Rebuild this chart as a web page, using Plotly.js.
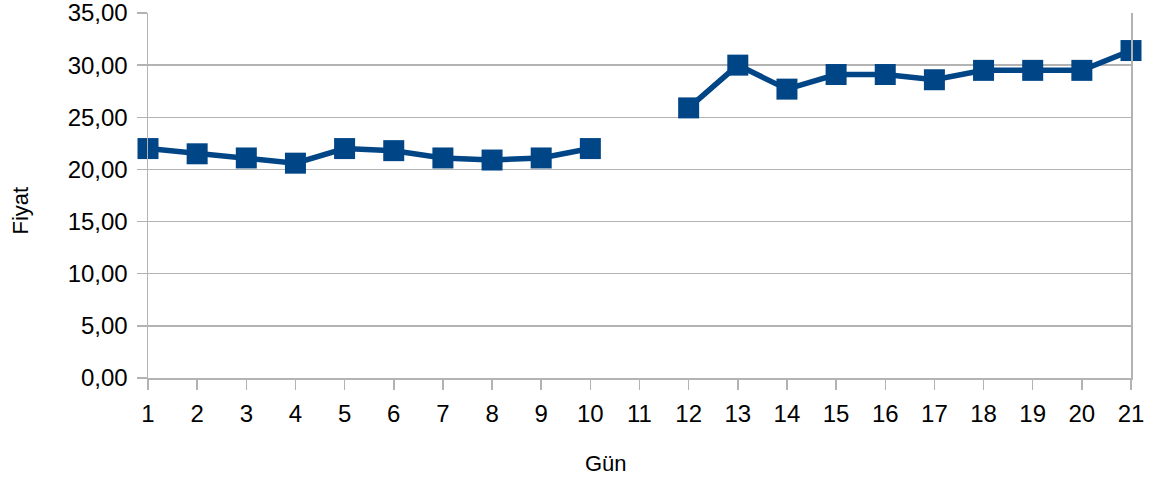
<!DOCTYPE html>
<html>
<head>
<meta charset="utf-8">
<script src="https://cdn.plot.ly/plotly-3.0.1.min.js"></script>
<style>
  html, body { margin: 0; padding: 0; background: #fff; }
  #chart { width: 1158px; height: 482px; }
</style>
</head>
<body>
<div id="chart"></div>
<script>
// Günlük fiyat serisi (11. gün verisi yok)
const gunler = [1, 2, 3, 4, 5, 6, 7, 8, 9, 10, 11, 12, 13, 14, 15, 16, 17, 18, 19, 20, 21];
const fiyatlar = [22.0, 21.5, 21.1, 20.6, 22.0, 21.8, 21.1, 20.9, 21.1, 22.0, null,
                  25.9, 30.0, 27.7, 29.1, 29.1, 28.6, 29.5, 29.5, 29.5, 31.4];
const yTickValues = [0, 5, 10, 15, 20, 25, 30, 35];
const xBaslik = 'Gün';
const yBaslik = 'Fiyat';

const lineColor = '#004586';
const gridColor = '#b3b3b3';
const textFont = { family: '"Liberation Sans", Arial, sans-serif', color: '#000' };

const trace = {
  x: gunler,
  y: fiyatlar,
  type: 'scatter',
  mode: 'lines+markers',
  connectgaps: false,
  cliponaxis: false,
  line: { color: lineColor, width: 5.5 },
  marker: { symbol: 'square', size: 21, color: lineColor },
  hoverinfo: 'x+y'
};

const layout = {
  width: 1158,
  height: 482,
  margin: { l: 148, r: 27, t: 13, b: 104 },
  paper_bgcolor: '#fff',
  plot_bgcolor: '#fff',
  showlegend: false,
  separators: ',.',
  xaxis: {
    range: [1, 21],
    tickmode: 'array',
    tickvals: gunler,
    ticktext: gunler.map(String),
    ticks: 'outside',
    ticklen: 10,
    tickcolor: gridColor,
    tickwidth: 1.5,
    showgrid: false,
    zeroline: false,
    showline: true,
    linecolor: gridColor,
    linewidth: 1.5,
    ticklabelstandoff: 4,
    ticklabeloverflow: 'allow',
    tickfont: Object.assign({ size: 24 }, textFont)
  },
  yaxis: {
    range: [0, 35],
    tickmode: 'array',
    tickvals: yTickValues,
    tickformat: '.2f',
    ticks: 'outside',
    ticklen: 10,
    tickcolor: gridColor,
    tickwidth: 1.5,
    showgrid: true,
    gridcolor: gridColor,
    gridwidth: 1.5,
    zeroline: false,
    showline: true,
    mirror: true,
    linecolor: gridColor,
    linewidth: 1.5,
    ticklabelstandoff: 4,
    ticklabeloverflow: 'allow',
    tickfont: Object.assign({ size: 24 }, textFont)
  },
  // Eksen başlıkları, grafik alanına göre konumlandırılmış metinler
  annotations: [
    {
      text: xBaslik,
      xref: 'paper', yref: 'paper',
      x: 0.466, y: -0.234,
      xanchor: 'center', yanchor: 'middle',
      showarrow: false,
      font: Object.assign({ size: 22 }, textFont)
    },
    {
      text: yBaslik,
      xref: 'paper', yref: 'paper',
      x: -0.1307, y: 0.4575,
      xanchor: 'center', yanchor: 'middle',
      textangle: -90,
      showarrow: false,
      font: Object.assign({ size: 22 }, textFont)
    }
  ]
};

Plotly.newPlot('chart', [trace], layout, { displayModeBar: false, staticPlot: true });
</script>
</body>
</html>
